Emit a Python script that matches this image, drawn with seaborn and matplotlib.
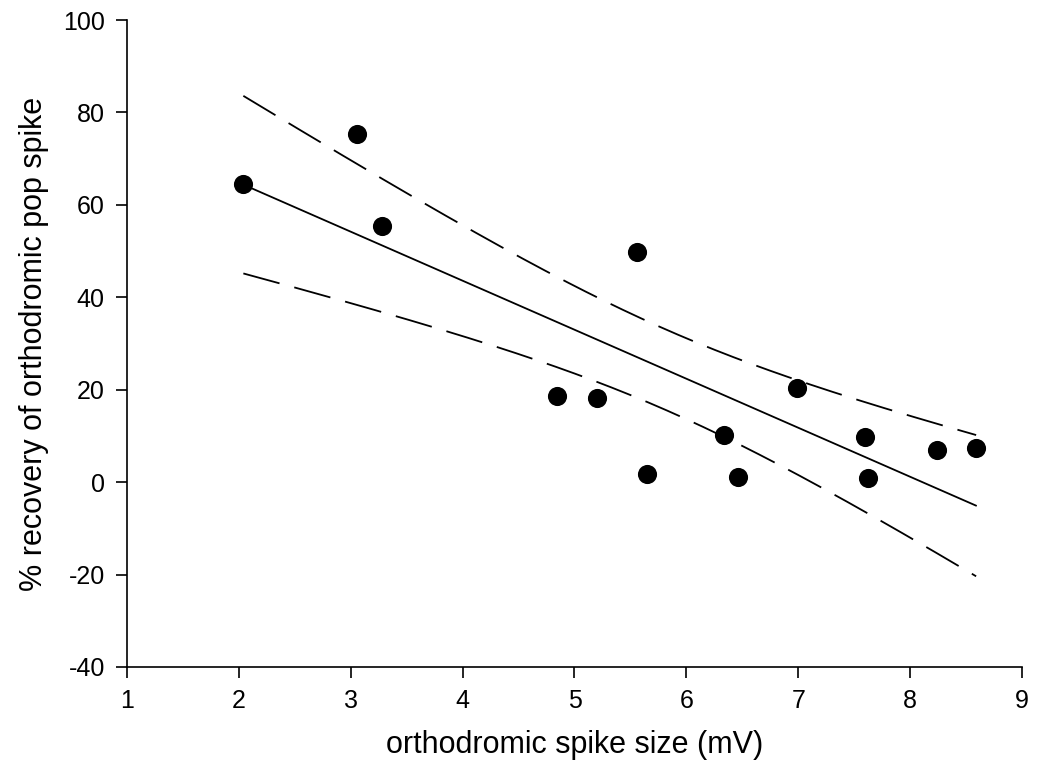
import numpy as np
import pandas as pd
import matplotlib
matplotlib.use("Agg")
import matplotlib.pyplot as plt
import seaborn as sns

spike_size = [2.04, 3.06, 3.28, 4.84, 5.20, 5.56, 5.65, 6.34, 6.46, 6.99, 7.60, 7.62, 8.24, 8.59]
recovery = [64.5, 75.3, 55.4, 18.7, 18.3, 49.7, 1.7, 10.2, 1.1, 20.3, 9.8, 0.8, 7.0, 7.3]
x_ticks = [1, 2, 3, 4, 5, 6, 7, 8, 9]
y_ticks = [-40, -20, 0, 20, 40, 60, 80, 100]

sns.set_style("ticks")
plt.rcParams['font.family'] = ['Liberation Sans', 'DejaVu Sans']
plt.rcParams['lines.scale_dashes'] = False
plt.rcParams['text.color'] = 'black'
plt.rcParams['axes.labelcolor'] = 'black'

df = pd.DataFrame({"x": spike_size, "y": recovery})

fig = plt.figure(figsize=(10.43, 7.78), dpi=100)
ax = fig.add_axes([127 / 1043, 1 - 667 / 778, (1022 - 127) / 1043, (667 - 20) / 778])

# regression and 95% confidence band (analytic)
x = np.asarray(spike_size)
y = np.asarray(recovery)
n = len(x)
b, a = np.polyfit(x, y, 1)
xs = np.linspace(x.min(), x.max(), 200)
yfit = a + b * xs
resid = y - (a + b * x)
s = np.sqrt(np.sum(resid ** 2) / (n - 2))
sxx = np.sum((x - x.mean()) ** 2)
tval = 2.1788  # t(0.975, 12)
se = s * np.sqrt(1 / n + (xs - x.mean()) ** 2 / sxx)
band = pd.DataFrame({"x": xs, "fit": yfit, "upper": yfit + tval * se, "lower": yfit - tval * se})

sns.lineplot(data=band, x="x", y="fit", ax=ax, color="black", lw=1.3)
for col in ["upper", "lower"]:
    sns.lineplot(data=band, x="x", y=col, ax=ax, color="black", lw=1.3, dashes=False)
    ax.lines[-1].set_dashes((27, 11))

sns.scatterplot(data=df, x="x", y="y", ax=ax, color="black", s=190, edgecolor="black", linewidth=0, zorder=5)

ax.set_xlim(1, 9)
ax.set_ylim(-40, 100)
ax.set_xticks(x_ticks)
ax.set_yticks(y_ticks)
ax.set_xticklabels([str(v) for v in x_ticks])
ax.set_yticklabels([str(v) for v in y_ticks])
ax.tick_params(direction="out", length=8, width=1.2, labelsize=18, color="black", labelcolor="black", pad=8)
for sp in ["left", "bottom"]:
    ax.spines[sp].set_linewidth(1.2)
    ax.spines[sp].set_color("black")
sns.despine(ax=ax)
ax.set_xlabel("orthodromic spike size (mV)", fontsize=22, labelpad=12, color="black")
ax.set_ylabel("% recovery of orthodromic pop spike", fontsize=22, labelpad=10, color="black")

fig.savefig("out.png", dpi=100)
